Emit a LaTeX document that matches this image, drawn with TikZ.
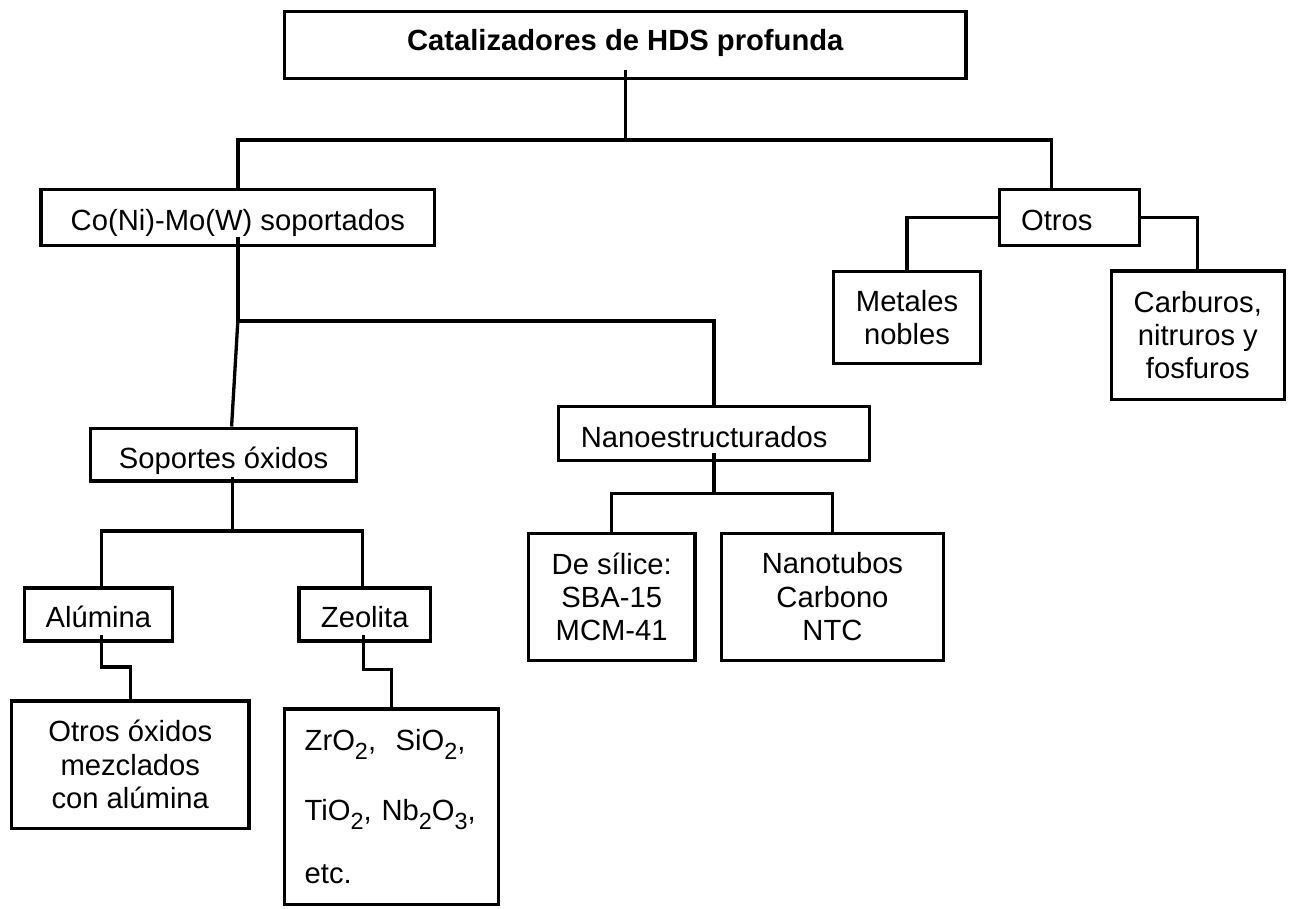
\documentclass[tikz,border=0pt]{standalone}
\usepackage{fontspec}
\setmainfont{Liberation Sans}
\usepackage{tikz}
\usetikzlibrary{calc}
\newcommand{\lowsub}[1]{\raisebox{-4.5pt}{\fontsize{11.7}{12}\selectfont #1}}
\tikzstyle{category} = [rectangle, draw, align=center, line width=0.58mm, minimum height=9.3mm, text height=16.4pt, text depth=3pt]
\tikzstyle{family} = [rectangle, draw, align=center, line width=0.58mm, minimum height=22.4mm]
\tikzstyle{connector} = [line width=0.58mm]

\begin{document}
\begin{tikzpicture}[font=\fontsize{14.6}{16.7}\selectfont]
    \node (title) [category, minimum width=119.7mm, minimum height=11.8mm, text height=8.4pt] {\textbf{Catalizadores de HDS profunda}};
    \useasboundingbox ($(title.center)+(-109.9mm,7.9mm)$) rectangle ($(title.center)+(116.8mm,-151.8mm)$);
    \node (co) [category, below of = title, xshift=-68.1mm, yshift=-20.3mm, minimum width=69.2mm, minimum height=9.8mm] {Co(Ni)-Mo(W) soportados};
    \node (otros) [category, below of = title, xshift=78.1mm, yshift=-20.3mm, minimum width=24.6mm, minimum height=9.8mm] {\hspace*{-13pt}Otros};
    \node (metales) [family, below of = otros, xshift=-28.6mm, yshift=-7.6mm, minimum width=25.8mm, minimum height=16.2mm] {Metales\\nobles};
    \node (carburos) [family, below of = otros, xshift=22.5mm, yshift=-10.7mm, minimum width=30.4mm, minimum height=22.5mm] {Carburos,\\nitruros y\\fosfuros};
    \node (soportes) [category, below of = co, xshift=-2.5mm, yshift=-31.7mm, minimum width=46.8mm] {Soportes óxidos};
    \node (nano) [category, below of = co, xshift=83.7mm, yshift=-28mm, minimum width=54.6mm, minimum height=9.5mm] {\hspace*{-10pt}Nanoestructurados};
    \node (desilice) [family, below of = nano, xshift=-18mm, yshift=-18.7mm, minimum width=29.3mm, minimum height=22.3mm] {De sílice:\\SBA-15\\MCM-41};
    \node (nanotubos) [family, below of = nano, xshift=20.8mm, yshift=-18.7mm, minimum width=39mm, minimum height=22.3mm] {Nanotubos\\Carbono\\NTC};
    \node (alumina) [category, below of = soportes, xshift=-22mm, yshift=-18.1mm, minimum width=26mm] {Alúmina};
    \node (zeolita) [category, below of = soportes, xshift=24.8mm, yshift=-18.1mm, minimum width=23.1mm] {Zeolita};
    \node (otrosox) [family, below of = alumina, xshift=5.6mm, yshift=-16.4mm, minimum width=41.7mm] {Otros óxidos\\mezclados\\con alúmina};
    \node (oxlist) [family, below of = zeolita, xshift=4.7mm, yshift=-23.8mm, minimum width=37.6mm, minimum height=34.4mm, text width=30.5mm, align=left] {ZrO\lowsub{2},\ \ SiO\lowsub{2},\\[18pt]TiO\lowsub{2}, Nb\lowsub{2}O\lowsub{3},\\[15pt]etc.};
    \coordinate (j1) at ($(title.south)-(0,10.5mm)$);
    \coordinate (j2) at ($(co.south)-(0,13mm)$);
    \coordinate (j3) at ($(soportes.south)+(1.6mm,-8.5mm)$);
    \coordinate (j4) at ($(nano.south)-(0,5.5mm)$);
    \coordinate (j5) at ($(alumina.south)+(0.5mm,-4.3mm)$);
    \coordinate (j6) at ($(zeolita.south)+(-0.2mm,-4.7mm)$);
    \draw [connector] ([yshift=1.8mm]title.south) -- (j1);
    \draw [connector] (co.north) |- (j1) -| ([xshift=-3.2mm]otros.north);
    \draw [connector] (otros.west) -| (metales.north);
    \draw [connector] (otros.east) -| (carburos.north);
    \draw [connector] ([yshift=1.8mm]co.south) -- (j2) -| (nano.north);
    \draw [connector] (j2) -- ([xshift=1.4mm]soportes.north);
    \draw [connector] ([xshift=1.6mm,yshift=1mm]soportes.south) -- (j3);
    \draw [connector] ([xshift=0.5mm]alumina.north) |- (j3) -| ([xshift=-0.4mm]zeolita.north);
    \draw [connector] ([yshift=1.6mm]nano.south) -- (j4);
    \draw [connector] (desilice.north) |- (j4) -| (nanotubos.north);
    \draw [connector] ([xshift=0.5mm,yshift=1.4mm]alumina.south) |- (j5) -| (otrosox.north);
    \draw [connector] ([xshift=-0.2mm,yshift=1.4mm]zeolita.south) |- (j6) -| (oxlist.north);
\end{tikzpicture}
\end{document}
